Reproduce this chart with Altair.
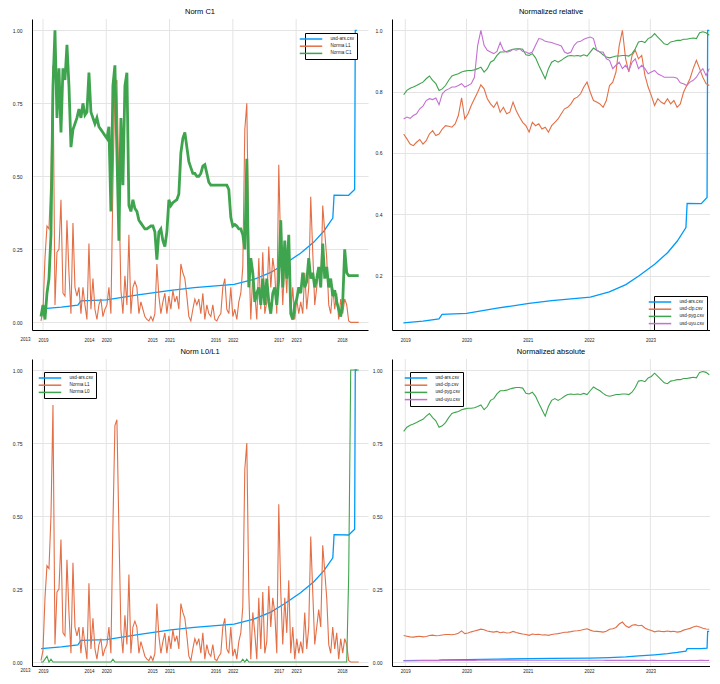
import altair as alt
import numpy as np
import pandas as pd

FONT = "Liberation Sans"
BLUE, ORANGE, GREEN, PURPLE = "#009AFA", "#E36F47", "#3EA44E", "#C371D2"

# ---------------- data ----------------
# usd-ars normalised (relative to its own max)
ars_years = [2018.97, 2019.29, 2019.55, 2019.60, 2020.00, 2020.50, 2021.02, 2021.39,
             2022.02, 2022.33, 2022.60, 2022.81, 2023.07, 2023.28, 2023.44, 2023.58,
             2023.60, 2023.83, 2023.925, 2023.935, 2023.96]
ars_rel = [0.046, 0.052, 0.059, 0.074, 0.077, 0.094, 0.110, 0.119, 0.130, 0.147, 0.171,
           0.199, 0.237, 0.275, 0.313, 0.357, 0.436, 0.435, 0.455, 1.0, 1.0]

# dense series on a regular date grid (160 samples)
dense_start, dense_end, dense_n = 2018.968, 2023.989, 160
norma_l1 = [0.005, 0.04, 0.22, 0.33, 0.32, 0.50, 0.88, 0.06, 0.24, 0.25,
            0.42, 0.10, 0.09, 0.35, 0.17, 0.03, 0.34, 0.12, 0.09, 0.12,
            0.03, 0.12, 0.06, 0.01, 0.27, 0.045, 0.15, 0.045, 0.01, 0.06,
            0.08, 0.02, 0.045, 0.06, 0.12, 0.03, 0.47, 0.81, 0.83, 0.45,
            0.11, 0.03, 0.16, 0.06, 0.30, 0.03, 0.12, 0.14, 0.12, 0.03,
            0.07, 0.045, 0.02, 0.01, 0.005, 0.02, 0.005, 0.03, 0.20, 0.09,
            0.03, 0.07, 0.10, 0.03, 0.09, 0.045, 0.11, 0.07, 0.09, 0.045,
            0.20, 0.17, 0.15, 0.09, 0.02, 0.005, 0.045, 0.08, 0.06, 0.08,
            0.03, 0.10, 0.01, 0.06, 0.03, 0.02, 0.06, 0.01, 0.005, 0.02,
            0.03, 0.12, 0.15, 0.045, 0.03, 0.12, 0.02, 0.045, 0.01, 0.07,
            0.10, 0.19, 0.66, 0.75, 0.24, 0.01, 0.17, 0.10, 0.01, 0.22,
            0.045, 0.24, 0.03, 0.07, 0.26, 0.12, 0.22, 0.17, 0.03, 0.54,
            0.24, 0.06, 0.22, 0.10, 0.28, 0.03, 0.12, 0.01, 0.08, 0.03,
            0.07, 0.03, 0.17, 0.045, 0.12, 0.43, 0.24, 0.06, 0.12, 0.18,
            0.12, 0.40, 0.31, 0.22, 0.06, 0.03, 0.12, 0.045, 0.10, 0.01,
            0.08, 0.03, 0.08, 0.06, 0.005, 0.0, 0.0, 0.0, 0.0, 0.0]
norma_c1 = [0.02, 0.06, 0.01, 0.10, 0.15, 0.30, 0.81, 1.0, 0.70, 0.87,
            0.65, 0.87, 0.83, 0.95, 0.81, 0.60, 0.66, 0.68, 0.70, 0.73,
            0.70, 0.75, 0.71, 0.72, 0.855, 0.72, 0.70, 0.68, 0.70, 0.67,
            0.66, 0.65, 0.64, 0.63, 0.67, 0.38, 0.81, 0.88, 0.58, 0.28,
            0.70, 0.47, 0.81, 0.855, 0.40, 0.38, 0.42, 0.39, 0.38, 0.35,
            0.34, 0.33, 0.32, 0.32, 0.325, 0.33, 0.33, 0.31, 0.215, 0.31,
            0.32, 0.28, 0.26, 0.31, 0.42, 0.40, 0.41, 0.415, 0.42, 0.44,
            0.58, 0.63, 0.65, 0.60, 0.55, 0.53, 0.51, 0.51, 0.50, 0.50,
            0.51, 0.535, 0.54, 0.51, 0.48, 0.47, 0.47, 0.47, 0.47, 0.47,
            0.47, 0.47, 0.47, 0.47, 0.455, 0.36, 0.33, 0.335, 0.33, 0.32,
            0.32, 0.30, 0.25, 0.56, 0.12, 0.22, 0.17, 0.07, 0.10, 0.12,
            0.06, 0.15, 0.06, 0.15, 0.07, 0.03, 0.10, 0.12, 0.06, 0.15,
            0.35, 0.12, 0.28, 0.15, 0.30, 0.03, 0.01, 0.06, 0.08, 0.12,
            0.10, 0.17, 0.12, 0.14, 0.22, 0.15, 0.17, 0.12, 0.15, 0.19,
            0.12, 0.27, 0.15, 0.19, 0.12, 0.15, 0.09, 0.11, 0.07, 0.045,
            0.02, 0.07, 0.25, 0.17, 0.16, 0.16, 0.16, 0.16, 0.16, 0.16]
norma_l0 = [0.0, 0.0, 0.01, 0.02, 0.0, 0.01, 0.0, 0.0, 0.0, 0.0,
            0.0, 0.0, 0.0, 0.0, 0.0, 0.0, 0.0, 0.0, 0.0, 0.0,
            0.0, 0.0, 0.0, 0.0, 0.0, 0.0, 0.0, 0.0, 0.0, 0.0,
            0.0, 0.0, 0.0, 0.0, 0.0, 0.0, 0.01, 0.0, 0.0, 0.0,
            0.0, 0.0, 0.0, 0.0, 0.0, 0.0, 0.0, 0.0, 0.0, 0.0,
            0.0, 0.0, 0.0, 0.0, 0.0, 0.0, 0.0, 0.0, 0.0, 0.0,
            0.0, 0.0, 0.0, 0.0, 0.0, 0.0, 0.0, 0.0, 0.0, 0.0,
            0.0, 0.0, 0.0, 0.0, 0.0, 0.0, 0.0, 0.0, 0.0, 0.0,
            0.0, 0.0, 0.0, 0.0, 0.0, 0.0, 0.0, 0.0, 0.0, 0.0,
            0.0, 0.0, 0.0, 0.0, 0.0, 0.0, 0.0, 0.0, 0.0, 0.0,
            0.0, 0.01, 0.0, 0.01, 0.0, 0.0, 0.0, 0.0, 0.0, 0.0,
            0.0, 0.0, 0.0, 0.0, 0.0, 0.0, 0.0, 0.0, 0.0, 0.0,
            0.0, 0.0, 0.0, 0.0, 0.0, 0.0, 0.0, 0.0, 0.0, 0.0,
            0.0, 0.0, 0.0, 0.0, 0.0, 0.0, 0.0, 0.0, 0.0, 0.0,
            0.0, 0.0, 0.0, 0.0, 0.0, 0.0, 0.0, 0.0, 0.0, 0.0,
            0.0, 0.0, 0.0, 0.0, 0.3, 1.0, 1.0, 1.0, 1.0, 1.0]

# currency series, regular grid of 96 samples
cur_start, cur_end, cur_n = 2018.974, 2023.961, 96
clp_rel = [0.662, 0.646, 0.629, 0.624, 0.635, 0.644, 0.629, 0.640, 0.662, 0.673,
           0.657, 0.662, 0.678, 0.689, 0.687, 0.684, 0.695, 0.722, 0.78, 0.711,
           0.728, 0.755, 0.777, 0.798, 0.822, 0.809, 0.777, 0.760, 0.749, 0.766,
           0.733, 0.749, 0.728, 0.733, 0.766, 0.738, 0.717, 0.700, 0.689, 0.668,
           0.700, 0.689, 0.695, 0.678, 0.684, 0.668, 0.689, 0.700, 0.711, 0.728,
           0.744, 0.749, 0.760, 0.777, 0.782, 0.793, 0.815, 0.831, 0.798, 0.771,
           0.766, 0.760, 0.749, 0.771, 0.820, 0.831, 0.864, 0.95, 1.0, 0.907,
           0.864, 0.918, 0.935, 0.907, 0.918, 0.853, 0.815, 0.787, 0.755, 0.777,
           0.766, 0.760, 0.777, 0.760, 0.771, 0.749, 0.760, 0.798, 0.820, 0.842,
           0.875, 0.902, 0.875, 0.847, 0.826, 0.820]
pyg_rel = [0.790, 0.804, 0.811, 0.815, 0.820, 0.826, 0.831, 0.842, 0.851, 0.837,
           0.826, 0.804, 0.809, 0.820, 0.837, 0.851, 0.855, 0.858, 0.864, 0.867,
           0.869, 0.869, 0.871, 0.875, 0.880, 0.864, 0.875, 0.896, 0.902, 0.918,
           0.929, 0.929, 0.931, 0.935, 0.938, 0.940, 0.940, 0.938, 0.920, 0.918,
           0.924, 0.910, 0.886, 0.864, 0.842, 0.875, 0.896, 0.902, 0.896, 0.902,
           0.910, 0.916, 0.918, 0.916, 0.918, 0.916, 0.920, 0.916, 0.929, 0.942,
           0.935, 0.929, 0.920, 0.913, 0.910, 0.913, 0.916, 0.916, 0.918, 0.918,
           0.916, 0.924, 0.940, 0.962, 0.964, 0.960, 0.973, 0.978, 0.989, 0.978,
           0.967, 0.956, 0.953, 0.962, 0.964, 0.967, 0.967, 0.971, 0.971, 0.973,
           0.975, 0.973, 0.992, 0.995, 0.992, 0.984]
uyu_rel = [0.711, 0.717, 0.713, 0.722, 0.728, 0.744, 0.753, 0.771, 0.777, 0.774,
           0.779, 0.757, 0.793, 0.804, 0.809, 0.815, 0.815, 0.820, 0.826, 0.815,
           0.820, 0.826, 0.847, 0.95, 1.0, 0.951, 0.935, 0.929, 0.924, 0.931,
           0.960, 0.935, 0.929, 0.931, 0.938, 0.935, 0.940, 0.931, 0.929, 0.924,
           0.929, 0.951, 0.973, 0.971, 0.964, 0.962, 0.960, 0.956, 0.953, 0.949,
           0.929, 0.924, 0.929, 0.951, 0.962, 0.964, 0.971, 0.975, 0.978, 0.973,
           0.935, 0.929, 0.929, 0.907, 0.902, 0.875, 0.886, 0.896, 0.875, 0.886,
           0.869, 0.896, 0.907, 0.875, 0.886, 0.875, 0.858, 0.864, 0.869, 0.858,
           0.853, 0.847, 0.847, 0.847, 0.847, 0.844, 0.829, 0.826, 0.820, 0.831,
           0.837, 0.847, 0.864, 0.875, 0.853, 0.875]

# ratio of each series' max to the global max (pyg), for the absolute panel
abs_ratio = {"usd-ars.csv": 0.105, "usd-clp.csv": 0.137, "usd-pyg.csv": 1.0, "usd-uyu.csv": 0.0065}

major_years = [2019, 2020, 2021, 2022, 2023]
minor_label_years = [2013, 2014, 2015, 2016, 2017, 2018]
minor_offset = 0.725   # secondary labels sit 0.725 yr right of the main ones (shifted by 6 years)

# ---------------- helpers ----------------
dense_x = np.linspace(dense_start, dense_end, dense_n)
cur_x = np.linspace(cur_start, cur_end, cur_n)


def frame(x, y, name):
    return pd.DataFrame({"year": list(x), "value": list(y), "series": name})


LEFT_W, RIGHT_W = 336, 318
H_TOP, H_BOT = 311, 307
XDOM_L = [2018.826, 2024.136]
XDOM_R = [2018.7835, 2023.973]
YDOM_TL = [-0.026, 1.0387]
YDOM_TR = [0.023, 1.0368]
YDOM_B = [-0.0135, 1.0377]
GRID = "#e4e4e4"


def make_panel(title, series, width, height, xdom, ydom, yvals, yfmt, legend_xy,
               twin_labels, xlab_pad):
    names = [s[0] for s in series]
    colors = [s[2] for s in series]
    if twin_labels:
        xvals = sorted(major_years + [y + 6 - 1 + minor_offset for y in minor_label_years[1:]])
        lexpr = ("datum.value % 1 === 0 ? format(datum.value, 'd') : "
                 "format(floor(datum.value) - 5, 'd')")
    else:
        xvals = major_years
        lexpr = "format(datum.value, 'd')"
    xaxis = alt.Axis(values=xvals, labelExpr=lexpr, grid=False, ticks=False, title=None,
                     domainColor="black", domainWidth=1, labelFontSize=4.5, labelFont=FONT,
                     labelColor="#222", labelPadding=xlab_pad, labelOverlap=False,
                     labelFlush=False)
    yaxis = alt.Axis(values=yvals, format=yfmt, grid=True, gridColor=GRID, ticks=False,
                     title=None, domainColor="black", domainWidth=1, labelFontSize=5,
                     labelFont=FONT, labelColor="#222", labelPadding=10)
    xs = alt.Scale(domain=xdom, nice=False, zero=False)
    ys = alt.Scale(domain=ydom, nice=False, zero=False)
    cscale = alt.Scale(domain=names, range=colors)
    legend = alt.Legend(orient="none", legendX=legend_xy[0], legendY=legend_xy[1], title=None,
                        symbolType="M-4.5,0L4.5,0", symbolSize=25, symbolStrokeWidth=1.5,
                        labelFontSize=4.6, labelFont=FONT, labelColor="#222",
                        strokeColor="black", fillColor="white", padding=2.5, rowPadding=0.2,
                        labelOffset=16, cornerRadius=0, zindex=2)

    grid = alt.Chart(pd.DataFrame({"year": major_years})).mark_rule(
        color=GRID, strokeWidth=1).encode(x=alt.X("year:Q", scale=xs, axis=xaxis))
    layers = [grid]
    for name, df, color, sw in series:
        layers.append(alt.Chart(df).mark_line(strokeWidth=sw, clip=True).encode(
            x=alt.X("year:Q", scale=xs, axis=xaxis),
            y=alt.Y("value:Q", scale=ys, axis=yaxis),
            color=alt.Color("series:N", scale=cscale, legend=legend),
        ))
    if twin_labels:
        lab = pd.DataFrame({"year": [minor_label_years[0] + 6 - 1 + minor_offset],
                            "txt": [str(minor_label_years[0])]})
        layers.append(alt.Chart(lab).mark_text(fontSize=4.5, font=FONT, color="#222",
                                               baseline="top", clip=False).encode(
            x=alt.X("year:Q", scale=xs, axis=xaxis), y=alt.value(height + xlab_pad),
            text="txt:N"))
    return alt.layer(*layers).properties(
        width=width, height=height,
        title=alt.TitleParams(text=title, fontSize=7.5, font=FONT, fontWeight="normal",
                              color="black", anchor="middle", offset=3))


ars_df = frame(ars_years, ars_rel, "usd-ars.csv")
tl = make_panel("Norm C1", [
    ("usd-ars.csv", ars_df, BLUE, 1.3),
    ("Norma L1", frame(dense_x, norma_l1, "Norma L1"), ORANGE, 1.1),
    ("Norma C1", frame(dense_x, norma_c1, "Norma C1"), GREEN, 2.8),
], LEFT_W, H_TOP, XDOM_L, YDOM_TL, [0, 0.25, 0.5, 0.75, 1.0], ".2f", (273, 14), True, 7)

tr = make_panel("Normalized relative", [
    ("usd-ars.csv", ars_df, BLUE, 1.3),
    ("usd-clp.csv", frame(cur_x, clp_rel, "usd-clp.csv"), ORANGE, 1.1),
    ("usd-pyg.csv", frame(cur_x, pyg_rel, "usd-pyg.csv"), GREEN, 1.1),
    ("usd-uyu.csv", frame(cur_x, uyu_rel, "usd-uyu.csv"), PURPLE, 1.1),
], RIGHT_W, H_TOP, XDOM_R, YDOM_TR, [0.2, 0.4, 0.6, 0.8, 1.0], ".1f", (262, 277), False, 7)

bl = make_panel("Norm L0/L1", [
    ("usd-ars.csv", ars_df, BLUE, 1.3),
    ("Norma L1", frame(dense_x, norma_l1, "Norma L1"), ORANGE, 1.1),
    ("Norma L0", frame(dense_x, norma_l0, "Norma L0"), GREEN, 1.1),
], LEFT_W, H_BOT, XDOM_L, YDOM_B, [0, 0.25, 0.5, 0.75, 1.0], ".2f", (12, 13), True, 2)


def scaled(x, vals, name):
    return frame(x, [v * abs_ratio[name] for v in vals], name)


br = make_panel("Normalized absolute", [
    ("usd-ars.csv", scaled(ars_years, ars_rel, "usd-ars.csv"), BLUE, 1.3),
    ("usd-clp.csv", scaled(cur_x, clp_rel, "usd-clp.csv"), ORANGE, 1.1),
    ("usd-pyg.csv", scaled(cur_x, pyg_rel, "usd-pyg.csv"), GREEN, 1.1),
    ("usd-uyu.csv", scaled(cur_x, uyu_rel, "usd-uyu.csv"), PURPLE, 1.1),
], RIGHT_W, H_BOT, XDOM_R, YDOM_B, [0, 0.25, 0.5, 0.75, 1.0], ".2f", (18, 13), False, 2)

chart = alt.concat(tl, tr, bl, br, columns=2, bounds="flush",
                   spacing=alt.RowColnumber(row=29, column=24)).resolve_scale(
    color="independent").resolve_legend(color="independent").properties(
    padding={"left": 4, "top": 0, "right": 0, "bottom": 0}, background="white"
).configure_view(stroke=None)

chart.save("out.html", embed_options={"renderer": "svg", "actions": False})
